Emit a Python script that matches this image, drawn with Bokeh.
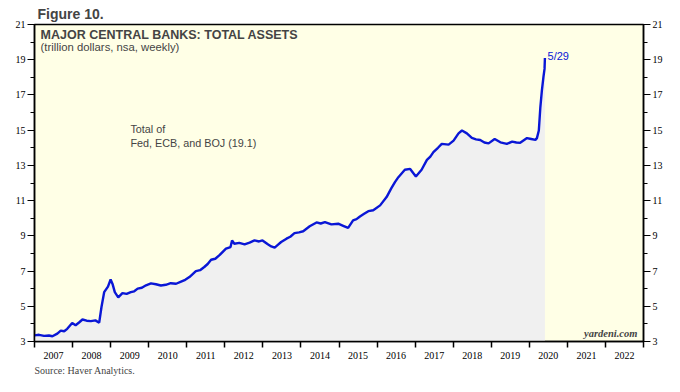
from bokeh.plotting import figure
from bokeh.models import Range1d, LinearAxis, FixedTicker, Label, Title
from bokeh.embed import file_html
from bokeh.resources import INLINE

# Decimal-year dates and total assets (trillion dollars)
dates = [2007.00, 2007.12, 2007.25, 2007.38, 2007.47, 2007.60, 2007.69, 2007.78, 2007.86, 2007.99,
         2008.08, 2008.17, 2008.26, 2008.37, 2008.48, 2008.60, 2008.70, 2008.76, 2008.83, 2008.93,
         2009.00, 2009.05, 2009.11, 2009.20, 2009.31, 2009.42, 2009.53, 2009.62, 2009.71, 2009.82,
         2009.93, 2010.06, 2010.19, 2010.32, 2010.45, 2010.58, 2010.72, 2010.85, 2010.96, 2011.07,
         2011.24, 2011.35, 2011.46, 2011.55, 2011.64, 2011.75, 2011.86, 2012.03, 2012.15, 2012.19,
         2012.25, 2012.38, 2012.52, 2012.65, 2012.78, 2012.90, 2012.99, 2013.13, 2013.22, 2013.31,
         2013.40, 2013.48, 2013.62, 2013.72, 2013.83, 2013.95, 2014.06, 2014.23, 2014.41, 2014.52,
         2014.63, 2014.80, 2014.98, 2015.11, 2015.24, 2015.37, 2015.46, 2015.55, 2015.66, 2015.77,
         2015.90, 2016.08, 2016.25, 2016.38, 2016.47, 2016.56, 2016.73, 2016.87, 2017.02, 2017.17,
         2017.31, 2017.40, 2017.48, 2017.60, 2017.70, 2017.88, 2018.01, 2018.14, 2018.23, 2018.36,
         2018.49, 2018.60, 2018.71, 2018.82, 2018.93, 2019.09, 2019.24, 2019.41, 2019.55, 2019.66,
         2019.76, 2019.94, 2020.05, 2020.16, 2020.20, 2020.25, 2020.29, 2020.33, 2020.37, 2020.40,
         2020.41]
assets = [3.35, 3.38, 3.32, 3.34, 3.30, 3.45, 3.62, 3.58, 3.72, 4.05,
          3.92, 4.08, 4.25, 4.18, 4.16, 4.20, 4.07, 4.96, 5.80, 6.12,
          6.52, 6.27, 5.80, 5.51, 5.75, 5.70, 5.80, 5.85, 6.00, 6.05,
          6.19, 6.30, 6.25, 6.18, 6.22, 6.31, 6.28, 6.40, 6.50, 6.66,
          7.00, 7.05, 7.23, 7.40, 7.64, 7.70, 7.90, 8.27, 8.36, 8.74,
          8.55, 8.60, 8.52, 8.62, 8.74, 8.68, 8.74, 8.52, 8.40, 8.33,
          8.50, 8.65, 8.84, 8.95, 9.15, 9.20, 9.26, 9.54, 9.76, 9.70,
          9.78, 9.65, 9.69, 9.57, 9.45, 9.88, 9.95, 10.10, 10.25, 10.40,
          10.45, 10.73, 11.20, 11.72, 12.05, 12.33, 12.75, 12.80, 12.37, 12.75,
          13.31, 13.50, 13.75, 14.00, 14.22, 14.18, 14.41, 14.82, 14.98, 14.82,
          14.56, 14.48, 14.44, 14.30, 14.25, 14.50, 14.31, 14.22, 14.35, 14.30,
          14.28, 14.55, 14.50, 14.45, 14.55, 14.98, 16.30, 17.25, 18.00, 18.48,
          19.10]

year_bounds = list(range(2007, 2024))
year_labels = [str(y) for y in range(2007, 2023)]
y_major = list(range(3, 22, 2))
y_minor = list(range(4, 21, 2))

SANS = "Liberation Sans"
SERIF = "Liberation Serif"
BLUE = "#0a17d6"

p = figure(frame_width=609, frame_height=317,
           x_range=Range1d(2007, 2023), y_range=Range1d(3, 21),
           output_backend="svg", toolbar_location=None,
           min_border_left=34, min_border_right=30, min_border_top=0, min_border_bottom=10,
           background_fill_color="#FFFFE6", border_fill_color="white")
p.grid.visible = False
p.outline_line_color = "black"
p.outline_line_width = 1.5

p.title.text = "Figure 10."
p.title.text_font = SANS
p.title.text_font_size = "14px"
p.title.text_font_style = "bold"
p.title.offset = 3
p.title.standoff = 6

# area + line
p.varea(x=dates, y1=[3] * len(dates), y2=assets, fill_color="#F0F0F0")
p.line(dates, assets, line_color=BLUE, line_width=2.4)

# x axis: labels at mid-year, ticks at year boundaries
xa = p.xaxis[0]
mids = [y + 0.5 for y in range(2007, 2023)]
xa.ticker = FixedTicker(ticks=mids, minor_ticks=year_bounds)
xa.major_label_overrides = {m: lab for m, lab in zip(mids, year_labels)}
xa.major_tick_in = 0
xa.major_tick_out = 0
xa.minor_tick_in = 0
xa.minor_tick_out = 6
xa.minor_tick_line_color = "black"
xa.minor_tick_line_width = 1.5
xa.axis_line_width = 1.5
xa.major_label_standoff = 4
xa.major_label_text_font = SERIF
xa.major_label_text_font_size = "10px"
xa.major_label_text_color = "black"


def style_y(ax):
    ax.ticker = FixedTicker(ticks=y_major, minor_ticks=y_minor)
    ax.major_tick_in = 0
    ax.major_tick_out = 7
    ax.minor_tick_in = 0
    ax.minor_tick_out = 4
    ax.major_tick_line_color = "black"
    ax.minor_tick_line_color = "black"
    ax.axis_line_width = 1.5
    ax.major_label_standoff = 2
    ax.major_label_text_font = SERIF
    ax.major_label_text_font_size = "10px"
    ax.major_label_text_color = "black"


style_y(p.yaxis[0])
ry = LinearAxis()
style_y(ry)
p.add_layout(ry, "right")

# texts
p.add_layout(Label(x=2007.16, y=20.80, text="MAJOR CENTRAL BANKS: TOTAL ASSETS",
                   text_font=SANS, text_font_size="12.5px", text_font_style="bold",
                   text_baseline="top"))
p.add_layout(Label(x=2007.16, y=20.05, text="(trillion dollars, nsa, weekly)",
                   text_font=SANS, text_font_size="11.3px", text_baseline="top"))
p.add_layout(Label(x=2009.52, y=15.40, text="Total of",
                   text_font=SANS, text_font_size="10.8px", text_baseline="top"))
p.add_layout(Label(x=2009.52, y=14.60, text="Fed, ECB, and BOJ (19.1)",
                   text_font=SANS, text_font_size="10.8px", text_baseline="top"))
p.add_layout(Label(x=2020.48, y=19.2, text="5/29", text_color=BLUE,
                   text_font=SANS, text_font_size="11px", text_baseline="middle"))
p.add_layout(Label(x=2022.84, y=3.45, text="yardeni.com",
                   text_font=SERIF, text_font_size="10.5px", text_font_style="bold italic",
                   text_align="right", text_baseline="middle"))

src = Title(text="Source: Haver Analytics.", align="left", text_font=SERIF,
            text_font_size="10px", text_font_style="normal", offset=0, standoff=2)
p.add_layout(src, "below")

open("out.html", "w").write(file_html(p, INLINE))
